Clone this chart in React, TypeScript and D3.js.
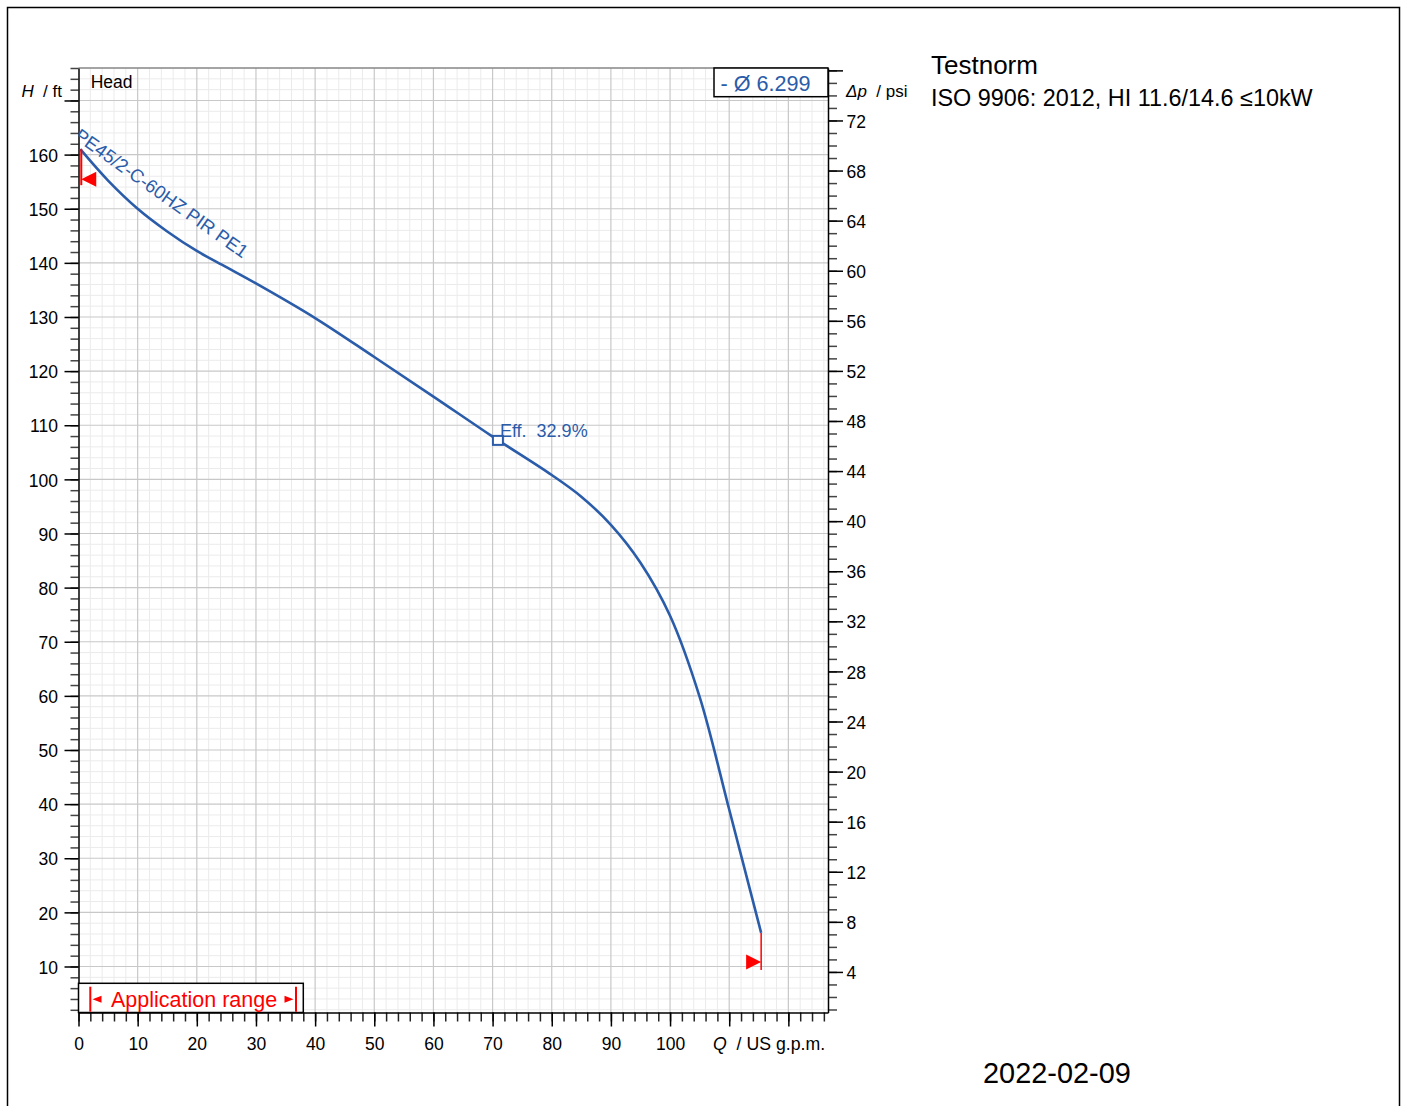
import React, { useRef, useEffect } from "react";
import * as d3 from "d3";

// pump curve (Q in US gpm, H in ft)
const flowGpm = [0.3, 5, 10, 15, 20, 25, 30, 40, 50, 60, 70, 80, 85, 90, 95, 100, 105, 110, 115.4];
const headFt = [161.0, 155.2, 150.0, 145.8, 142.2, 139.2, 136.2, 129.8, 122.6, 115.3, 107.9, 100.8, 96.8, 91.6, 84.6, 74.8, 59.8, 39.0, 16.2];

const effFlow = 70.9;
const effHead = 107.2;
const effLabel = "Eff.  32.9%";
const curveName = "PE45/2-C-60HZ PIR PE1";
const impellerLabel = "- Ø 6.299";

const qLabels = [0, 10, 20, 30, 40, 50, 60, 70, 80, 90, 100];
const hLabels = [10, 20, 30, 40, 50, 60, 70, 80, 90, 100, 110, 120, 130, 140, 150, 160];
const pLabels = [4, 8, 12, 16, 20, 24, 28, 32, 36, 40, 44, 48, 52, 56, 60, 64, 68, 72];

const FONT = "'Liberation Sans', Arial, sans-serif";
const BLUE = "#2a5caa";
const RED = "#ff0000";

function App() {
  const svgRef = useRef(null);

  useEffect(() => {
    const svg = d3.select(svgRef.current);
    svg.selectAll("*").remove();

    const left = 78.5, right = 828, top = 68, bottom = 1012.5;

    const x = d3.scaleLinear().domain([0, 126.7]).range([left, right]);
    const y = d3.scaleLinear().domain([1.5, 176]).range([bottom, top]);
    const yp = d3.scaleLinear().domain([0.76, 76.19]).range([bottom, top]);

    // outer frame
    svg.append("rect")
      .attr("x", 7.5).attr("y", 7.5)
      .attr("width", 1392).attr("height", 1120)
      .attr("fill", "none").attr("stroke", "#000").attr("stroke-width", 1.5);

    const defs = svg.append("defs");
    defs.append("clipPath").attr("id", "plot-clip")
      .append("rect")
      .attr("x", left).attr("y", top)
      .attr("width", right - left).attr("height", bottom - top);

    /* ---------- GRID ---------- */
    const grid = svg.append("g");
    const qMinor = d3.range(0, 127, 2).filter((d) => d % 10 !== 0);
    const qMajor = d3.range(10, 121, 10);
    const hMinor = d3.range(2, 177, 2).filter((d) => d % 10 !== 0);
    const hMajor = d3.range(10, 171, 10);

    grid.selectAll(".vmin").data(qMinor).enter().append("line")
      .attr("x1", (d) => x(d)).attr("x2", (d) => x(d))
      .attr("y1", top).attr("y2", bottom)
      .attr("stroke", "#ebebeb").attr("stroke-width", 1);
    grid.selectAll(".hmin").data(hMinor).enter().append("line")
      .attr("x1", left).attr("x2", right)
      .attr("y1", (d) => y(d)).attr("y2", (d) => y(d))
      .attr("stroke", "#ebebeb").attr("stroke-width", 1);
    grid.selectAll(".vmaj").data(qMajor).enter().append("line")
      .attr("x1", (d) => x(d)).attr("x2", (d) => x(d))
      .attr("y1", top).attr("y2", bottom)
      .attr("stroke", "#c8c8c8").attr("stroke-width", 1.2);
    grid.selectAll(".hmaj").data(hMajor).enter().append("line")
      .attr("x1", left).attr("x2", right)
      .attr("y1", (d) => y(d)).attr("y2", (d) => y(d))
      .attr("stroke", "#c8c8c8").attr("stroke-width", 1.2);

    // top border
    svg.append("line")
      .attr("x1", left).attr("x2", right).attr("y1", top).attr("y2", top)
      .attr("stroke", "#888").attr("stroke-width", 1.5);

    /* ---------- AXES ---------- */
    const styleText = (g, size) =>
      g.selectAll("text")
        .attr("fill", "#000")
        .style("font-family", FONT)
        .style("font-size", size);

    // left
    svg.append("g").attr("transform", `translate(${left},0)`)
      .call(d3.axisLeft(y).tickValues(d3.range(2, 177, 2)).tickSize(8).tickSizeOuter(0).tickFormat(() => ""))
      .call((g) => g.select(".domain").remove())
      .call((g) => g.selectAll("line").attr("stroke", "#444").attr("stroke-width", 1.5));
    svg.append("g").attr("transform", `translate(${left},0)`)
      .call(d3.axisLeft(y).tickValues(hMajor).tickSize(14).tickSizeOuter(0).tickPadding(6.5)
        .tickFormat((d) => (hLabels.includes(d) ? String(d) : "")))
      .call((g) => g.select(".domain").attr("stroke", "#000").attr("stroke-width", 1.5))
      .call((g) => g.selectAll("line").attr("stroke", "#000").attr("stroke-width", 1.5))
      .call((g) => styleText(g, "17.5px").attr("dy", "0.38em"));

    // right (psi)
    svg.append("g").attr("transform", `translate(${right},0)`)
      .call(d3.axisRight(yp).tickValues(d3.range(1, 77, 1)).tickSize(9).tickSizeOuter(0).tickFormat(() => ""))
      .call((g) => g.select(".domain").remove())
      .call((g) => g.selectAll("line").attr("stroke", "#444").attr("stroke-width", 1.5));
    svg.append("g").attr("transform", `translate(${right},0)`)
      .call(d3.axisRight(yp).tickValues(d3.range(4, 77, 4)).tickSize(15).tickSizeOuter(0).tickPadding(3.5)
        .tickFormat((d) => (pLabels.includes(d) ? String(d) : "")))
      .call((g) => g.select(".domain").attr("stroke", "#000").attr("stroke-width", 1.5))
      .call((g) => g.selectAll("line").attr("stroke", "#000").attr("stroke-width", 1.5))
      .call((g) => styleText(g, "17.5px").attr("dy", "0.38em"));

    // bottom
    svg.append("g").attr("transform", `translate(0,${bottom})`)
      .call(d3.axisBottom(x).tickValues(d3.range(0, 127, 2)).tickSize(9).tickSizeOuter(0).tickFormat(() => ""))
      .call((g) => g.select(".domain").remove())
      .call((g) => g.selectAll("line").attr("stroke", "#222").attr("stroke-width", 1.5));
    svg.append("g").attr("transform", `translate(0,${bottom})`)
      .call(d3.axisBottom(x).tickValues(d3.range(0, 121, 10)).tickSize(14).tickSizeOuter(0).tickPadding(11)
        .tickFormat((d) => (qLabels.includes(d) ? String(d) : "")))
      .call((g) => g.select(".domain").attr("stroke", "#000").attr("stroke-width", 1.5))
      .call((g) => g.selectAll("line").attr("stroke", "#000").attr("stroke-width", 1.5))
      .call((g) => styleText(g, "17.5px"));

    /* ---------- AXIS TITLES ---------- */
    const hTitle = svg.append("text")
      .attr("x", 62).attr("y", 96.7)
      .attr("text-anchor", "end")
      .style("font-family", FONT).style("font-size", "17px")
      .style("white-space", "pre");
    hTitle.append("tspan").attr("font-style", "italic").text("H");
    hTitle.append("tspan").text("  / ft");

    const pTitle = svg.append("text")
      .attr("x", 846).attr("y", 97)
      .style("font-family", FONT).style("font-size", "17px")
      .style("white-space", "pre");
    pTitle.append("tspan").attr("font-style", "italic").text("Δp");
    pTitle.append("tspan").text("  / psi");

    const qTitle = svg.append("text")
      .attr("x", 713).attr("y", 1050)
      .style("font-family", FONT).style("font-size", "17.7px")
      .style("white-space", "pre");
    qTitle.append("tspan").attr("font-style", "italic").text("Q");
    qTitle.append("tspan").text("  / US g.p.m.");

    svg.append("text")
      .attr("x", 90.7).attr("y", 87.7)
      .style("font-family", FONT).style("font-size", "17.5px")
      .text("Head");

    /* ---------- CURVE ---------- */
    const pts = flowGpm.map((q, i) => [q, headFt[i]]);
    const line = d3.line()
      .x((d) => x(d[0]))
      .y((d) => y(d[1]))
      .curve(d3.curveCatmullRom.alpha(0.5));

    svg.append("path")
      .datum(pts)
      .attr("d", line)
      .attr("fill", "none")
      .attr("stroke", BLUE)
      .attr("stroke-width", 2.6);

    // curve name along start of curve
    svg.append("g").attr("clip-path", "url(#plot-clip)")
      .append("text")
      .attr("transform", `translate(${x(flowGpm[0]) - 7},${y(headFt[0]) - 11}) rotate(35.5)`)
      .attr("fill", BLUE)
      .style("font-family", FONT).style("font-size", "18.5px")
      .text(curveName);

    // start / end markers
    const x0 = x(flowGpm[0]), y0 = y(headFt[0]);
    const xn = x(flowGpm[flowGpm.length - 1]), yn = y(headFt[headFt.length - 1]);
    svg.append("line")
      .attr("x1", x0 + 1).attr("x2", x0 + 1).attr("y1", y0).attr("y2", y0 + 36)
      .attr("stroke", RED).attr("stroke-width", 2);
    svg.append("path")
      .attr("d", `M${x0 + 1},${y0 + 30} L${x0 + 16},${y0 + 22.5} L${x0 + 16},${y0 + 37.5} Z`)
      .attr("fill", RED);
    svg.append("line")
      .attr("x1", xn).attr("x2", xn).attr("y1", yn).attr("y2", yn + 37)
      .attr("stroke", RED).attr("stroke-width", 1.5);
    svg.append("path")
      .attr("d", `M${xn},${yn + 29} L${xn - 15},${yn + 21.5} L${xn - 15},${yn + 36.5} Z`)
      .attr("fill", RED);

    // efficiency point
    svg.append("rect")
      .attr("x", x(effFlow) - 5).attr("y", y(effHead) - 4.5)
      .attr("width", 10).attr("height", 9)
      .attr("fill", "#fff").attr("stroke", BLUE).attr("stroke-width", 2);
    svg.append("text")
      .attr("x", x(effFlow) + 2).attr("y", y(effHead) - 3.5)
      .attr("fill", BLUE)
      .style("font-family", FONT).style("font-size", "18px")
      .style("white-space", "pre")
      .text(effLabel);

    /* ---------- IMPELLER BOX ---------- */
    svg.append("rect")
      .attr("x", 714).attr("y", top)
      .attr("width", right - 714).attr("height", 28.7)
      .attr("fill", "#fff").attr("stroke", "#000").attr("stroke-width", 1.5);
    svg.append("text")
      .attr("x", 720.5).attr("y", 91)
      .attr("fill", BLUE)
      .style("font-family", FONT).style("font-size", "21.6px")
      .text(impellerLabel);

    /* ---------- APPLICATION RANGE ---------- */
    const ar = svg.append("g");
    ar.append("rect")
      .attr("x", left).attr("y", 983.3)
      .attr("width", 303.3 - left).attr("height", bottom - 983.3)
      .attr("fill", "#fff").attr("stroke", "#000").attr("stroke-width", 1.5);
    ar.append("line")
      .attr("x1", 90.3).attr("x2", 90.3).attr("y1", 986.7).attr("y2", 1011.7)
      .attr("stroke", RED).attr("stroke-width", 2);
    ar.append("line")
      .attr("x1", 296).attr("x2", 296).attr("y1", 986.7).attr("y2", 1011.7)
      .attr("stroke", RED).attr("stroke-width", 2);
    ar.append("path").attr("d", "M92.5,999.3 L101.5,995.8 L101.5,1002.8 Z").attr("fill", RED);
    ar.append("path").attr("d", "M293.5,999.3 L284.5,995.8 L284.5,1002.8 Z").attr("fill", RED);
    ar.append("text")
      .attr("x", 111).attr("y", 1006.7)
      .attr("fill", RED)
      .style("font-family", FONT).style("font-size", "21.5px")
      .text("Application range");

    /* ---------- SIDE TEXT ---------- */
    svg.append("text")
      .attr("x", 931).attr("y", 74.3)
      .style("font-family", FONT).style("font-size", "26px")
      .text("Testnorm");
    svg.append("text")
      .attr("x", 931).attr("y", 106)
      .style("font-family", FONT).style("font-size", "23.4px")
      .text("ISO 9906: 2012, HI 11.6/14.6 ≤10kW");
    svg.append("text")
      .attr("x", 983).attr("y", 1082.5)
      .style("font-family", FONT).style("font-size", "28.9px")
      .text("2022-02-09");
  }, []);

  return (
    <div style={{ position: "absolute", left: 0, top: 0, width: 1401, height: 1106, background: "#fff" }}>
      <svg ref={svgRef} width={1401} height={1106} style={{ display: "block" }} />
    </div>
  );
}

export default App;
